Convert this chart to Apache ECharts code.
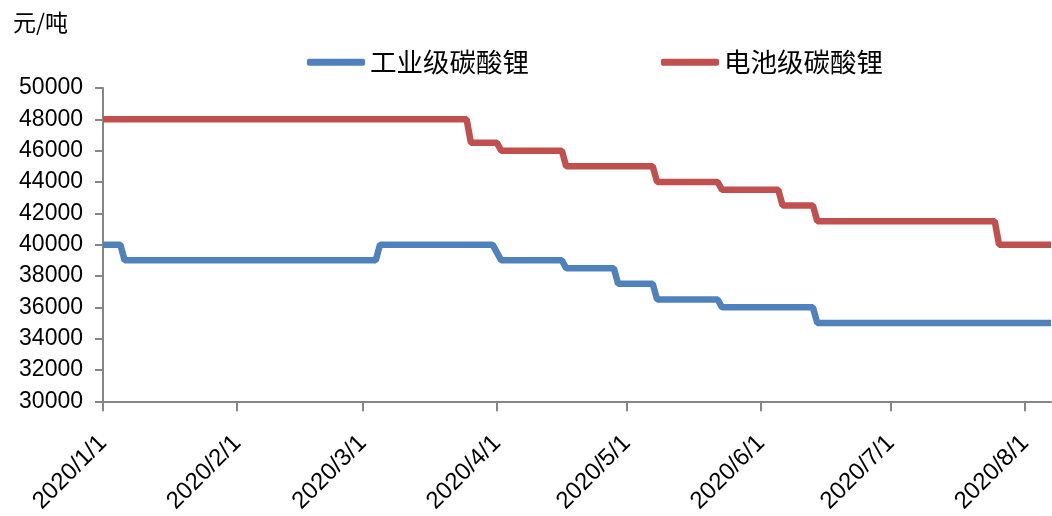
<!DOCTYPE html>
<html>
<head>
<meta charset="utf-8">
<title>碳酸锂价格</title>
<script src="https://cdn.jsdelivr.net/npm/echarts@6/dist/echarts.min.js"></script>
<style>
  html, body { margin: 0; padding: 0; background: #fff; }
  #main { width: 1052px; height: 516px; }
</style>
</head>
<body>
<div id="main"></div>
<script>
// 工业级碳酸锂 (元/吨)
var industrialDates = ['2020-01-01', '2020-01-05', '2020-01-06', '2020-03-04', '2020-03-05', '2020-03-31',
  '2020-04-02', '2020-04-16', '2020-04-17', '2020-04-28', '2020-04-29', '2020-05-07', '2020-05-08',
  '2020-05-22', '2020-05-23', '2020-06-13', '2020-06-14', '2020-08-07'];
var industrialPrices = [40000, 40000, 39000, 39000, 40000, 40000,
  39000, 39000, 38500, 38500, 37500, 37500, 36500,
  36500, 36000, 36000, 35000, 35000];

// 电池级碳酸锂 (元/吨)
var batteryDates = ['2020-01-01', '2020-03-25', '2020-03-26', '2020-04-01', '2020-04-02', '2020-04-16',
  '2020-04-17', '2020-05-07', '2020-05-08', '2020-05-22', '2020-05-23', '2020-06-05', '2020-06-06',
  '2020-06-13', '2020-06-14', '2020-07-25', '2020-07-26', '2020-08-07'];
var batteryPrices = [48000, 48000, 46500, 46500, 46000, 46000,
  45000, 45000, 44000, 44000, 43500, 43500, 42500,
  42500, 41500, 41500, 40000, 40000];

var seriesNames = ['工业级碳酸锂', '电池级碳酸锂'];
var axisStart = '2020-01-01';
var axisEnd = '2020-08-07';

function pairs (dates, values) {
  return dates.map(function (d, i) { return [d, values[i]]; });
}

var axisColor = '#868686';
var numFont = 'Liberation Sans, Arial, sans-serif';
var cjkFont = 'Noto Sans CJK SC, sans-serif';

var myChart = echarts.init(document.getElementById('main'));
myChart.setOption({
  animation: false,
  title: {
    text: '元/吨',
    left: 8,
    top: 6,
    textStyle: { fontFamily: cjkFont, fontSize: 23, fontWeight: 'normal', color: '#000' }
  },
  legend: {
    data: seriesNames,
    left: 302,
    top: 44,
    icon: 'roundRect',
    itemWidth: 58,
    itemHeight: 7,
    itemGap: 132,
    textStyle: { fontFamily: cjkFont, fontSize: 26.5, color: '#000' }
  },
  grid: {
    left: 103,
    right: 1,
    top: 88,
    bottom: 114
  },
  xAxis: {
    type: 'time',
    min: axisStart,
    max: axisEnd,
    minInterval: 28 * 24 * 3600 * 1000,
    maxInterval: 31 * 24 * 3600 * 1000,
    axisLine: { lineStyle: { color: axisColor, width: 2 } },
    axisTick: { show: true, length: 10, lineStyle: { color: axisColor, width: 2 } },
    splitLine: { show: false },
    axisLabel: {
      rotate: 45,
      margin: 38,
      interval: 0,
      hideOverlap: false,
      showMaxLabel: false,
      fontFamily: numFont,
      fontSize: 24,
      color: '#000',
      formatter: function (val) {
        var d = new Date(val);
        return d.getFullYear() + '/' + (d.getMonth() + 1) + '/' + d.getDate();
      }
    }
  },
  yAxis: {
    type: 'value',
    min: 30000,
    max: 50000,
    interval: 2000,
    axisLine: { show: true, lineStyle: { color: axisColor, width: 2 } },
    axisTick: { show: true, length: 8, lineStyle: { color: axisColor, width: 2 } },
    splitLine: { show: false },
    axisLabel: {
      margin: 20,
      fontFamily: numFont,
      fontSize: 23,
      color: '#000',
      formatter: function (v) { return String(v); }
    }
  },
  series: [
    {
      name: seriesNames[0],
      type: 'line',
      data: pairs(industrialDates, industrialPrices),
      showSymbol: false,
      symbol: 'none',
      itemStyle: { color: '#4F81BD' },
      lineStyle: { color: '#4F81BD', width: 6.5 }
    },
    {
      name: seriesNames[1],
      type: 'line',
      data: pairs(batteryDates, batteryPrices),
      showSymbol: false,
      symbol: 'none',
      itemStyle: { color: '#C0504D' },
      lineStyle: { color: '#C0504D', width: 6.5 }
    }
  ]
});
</script>
</body>
</html>
